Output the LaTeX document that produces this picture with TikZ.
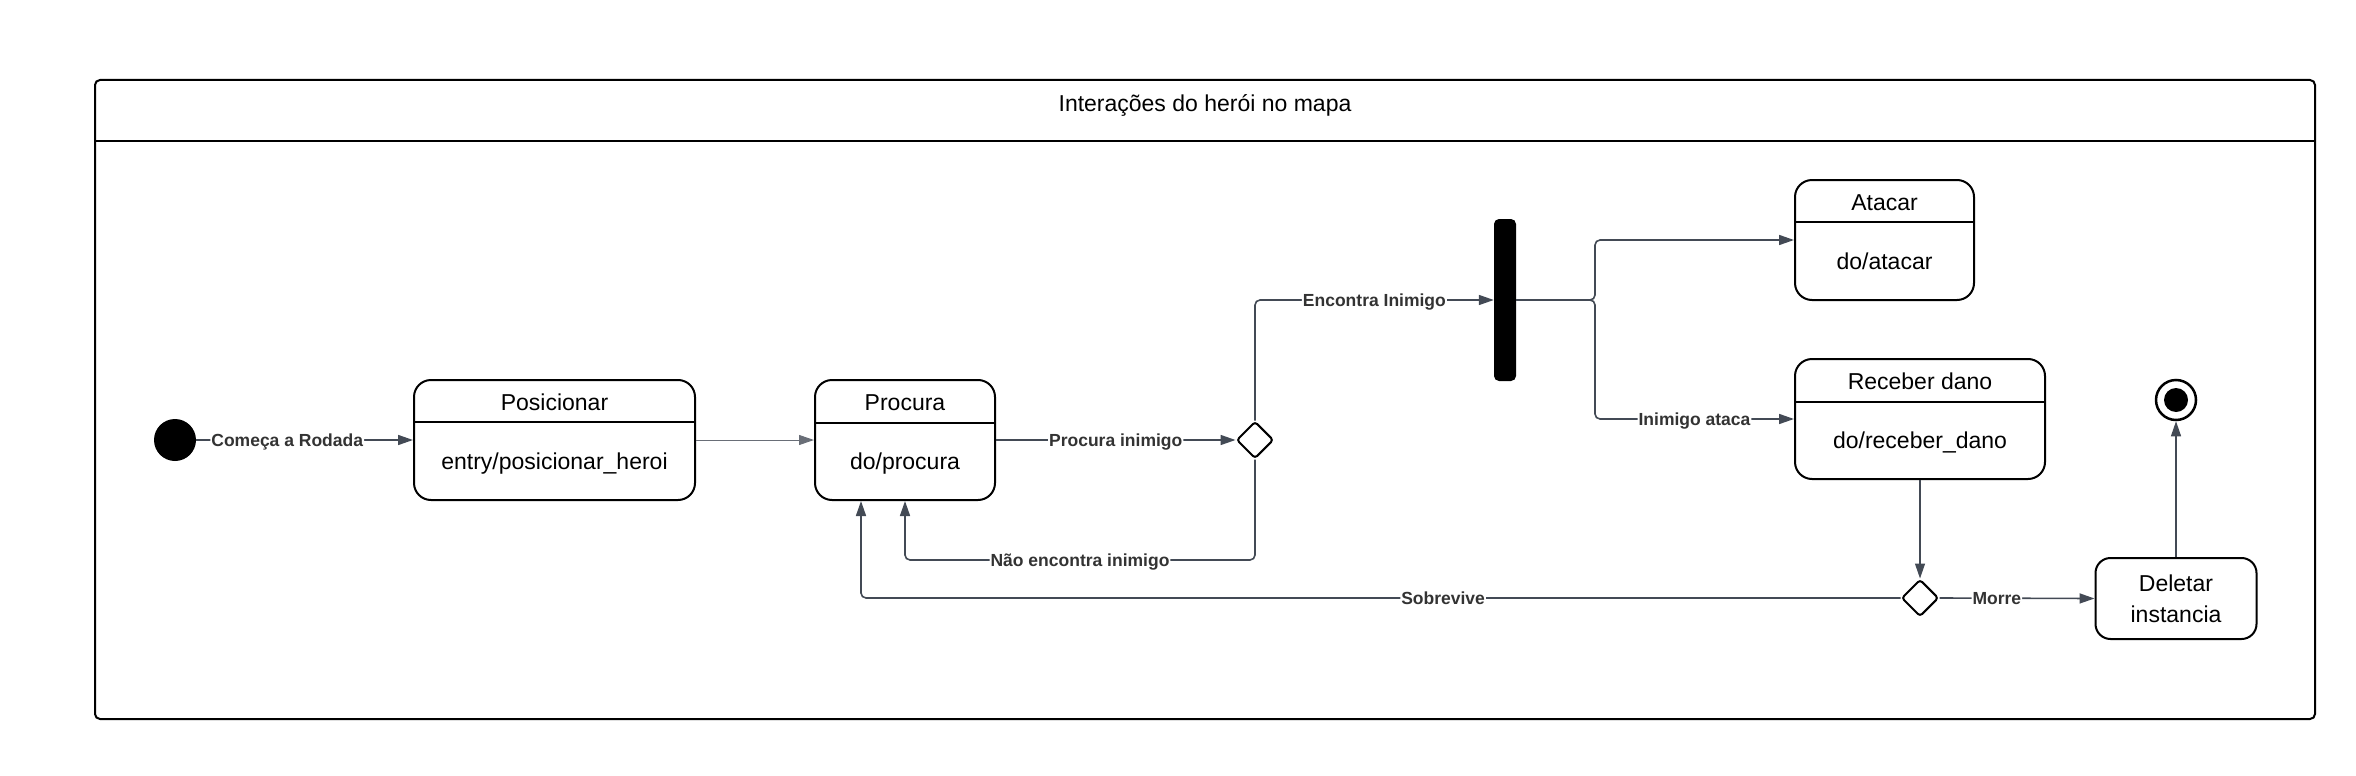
\documentclass[tikz,border=0pt]{standalone}
\usepackage{fontspec}
\setmainfont{Liberation Sans}
\usetikzlibrary{arrows.meta,shapes.geometric,calc}
\definecolor{seta}{HTML}{434A55}
\definecolor{rotulo}{HTML}{333333}
\begin{document}
\begin{tikzpicture}[x=1pt,y=-1pt,
    >={Triangle[length=15pt,width=10pt]},
    estado/.style={draw,line width=2pt,rounded corners=17pt,inner sep=0pt},
    nome/.style={anchor=base,font=\fontsize{23}{28}\selectfont},
    rot/.style={fill=white,text=rotulo,font=\fontsize{17.5}{20}\selectfont\bfseries,
      text height=12.5pt,text depth=0pt,inner xsep=1pt,inner ysep=2pt},
    trans/.style={->,draw=seta,line width=1.6pt,rounded corners=5pt},
    escolha/.style={diamond,draw,line width=2pt,fill=white,inner sep=0pt,
      minimum width=37pt,minimum height=37pt,rounded corners=3pt}]
    \useasboundingbox (0,0) rectangle (2356,776);
    % moldura
    \node[draw,line width=2pt,rounded corners=5pt,minimum width=2220pt,minimum height=639pt] (mapa) at (1205,399.5) {};
    \draw[line width=2pt] (mapa.west |- 0,141) -- (mapa.east |- 0,141);
    \node[nome] (titulo) at (1205,111) {Interações do herói no mapa};
    % estados
    \node[circle,fill=black,minimum size=42pt,inner sep=0pt] (inicio) at (175,440) {};
    \node[estado,minimum width=281pt,minimum height=120pt] (posicionar) at (554.5,440) {};
    \draw[line width=2pt] ($(posicionar.north west)+(0,43)$) -- ($(posicionar.north east)+(0,43)$);
    \node[nome] (posicionarN) at (554.5,410) {Posicionar};
    \node[nome] (posicionarB) at (554.5,469) {entry/posicionar\_heroi};
    \node[estado,minimum width=180pt,minimum height=120pt] (procura) at (905,440) {};
    \draw[line width=2pt] ($(procura.north west)+(0,44)$) -- ($(procura.north east)+(0,44)$);
    \node[nome] (procuraN) at (905,410) {Procura};
    \node[nome] (procuraB) at (905,469) {do/procura};
    \node[escolha] (escolha1) at (1255,440) {};
    \node[fill=black,rounded corners=5pt,minimum width=22pt,minimum height=162pt,inner sep=0pt] (fork) at (1505,300) {};
    \node[estado,minimum width=179pt,minimum height=120pt] (atacar) at (1884.5,240) {};
    \draw[line width=2pt] ($(atacar.north west)+(0,43)$) -- ($(atacar.north east)+(0,43)$);
    \node[nome] (atacarN) at (1884.5,210) {Atacar};
    \node[nome] (atacarB) at (1884.5,269) {do/atacar};
    \node[estado,minimum width=250pt,minimum height=120pt] (receber) at (1920,419) {};
    \draw[line width=2pt] ($(receber.north west)+(0,44)$) -- ($(receber.north east)+(0,44)$);
    \node[nome] (receberN) at (1920,389) {Receber dano};
    \node[nome] (receberB) at (1920,448) {do/receber\_dano};
    \node[escolha] (escolha2) at (1920,598) {};
    \node[estado,rounded corners=15pt,minimum width=161pt,minimum height=81pt] (deletar) at (2176,598.5) {};
    \node[nome] (deletarN) at (2176,591) {Deletar};
    \node[nome] (deletarB) at (2176,622.5) {instancia};
    \node[circle,draw,line width=2.5pt,minimum size=40pt,inner sep=0pt] (fim) at (2176,400) {};
    \node[circle,fill=black,minimum size=24pt,inner sep=0pt] (fimC) at (fim) {};
    % transicoes
    \coordinate (nao) at (905,560);
    \coordinate (sobrevive) at (861,598);
    \coordinate (divide) at (1595,300);
    \draw[trans] (inicio) -- node[rot,pos=0.42]{Começa a Rodada} (posicionar.west);
    \draw[->,draw=seta!80,line width=1pt] (posicionar.east) -- (procura.west);
    \draw[trans] (procura.east) -- node[rot]{Procura inimigo} (escolha1.west);
    \draw[trans] (escolha1.north) |- node[rot,pos=0.75]{Encontra Inimigo} (fork.west);
    \draw[trans] (escolha1.south) |- node[rot,pos=0.75]{Não encontra inimigo} (nao) -- (nao |- procura.south);
    \draw[trans] (fork.east) -- (divide) |- (atacar.west);
    \draw[trans] (fork.east) -- (divide) |- node[rot,pos=0.75]{Inimigo ataca} (receber.west);
    \draw[trans,line width=1.2pt] (receber.south) -- (escolha2.north);
    \draw[trans] (escolha2.west) -- node[rot,pos=0.44]{Sobrevive} (sobrevive) -- (sobrevive |- procura.south);
    \draw[trans] (escolha2.east) -- node[rot,pos=0.37]{Morre} (deletar.west);
    \draw[trans,line width=1.2pt] (deletar.north) -- (fim.south);
\end{tikzpicture}
\end{document}
